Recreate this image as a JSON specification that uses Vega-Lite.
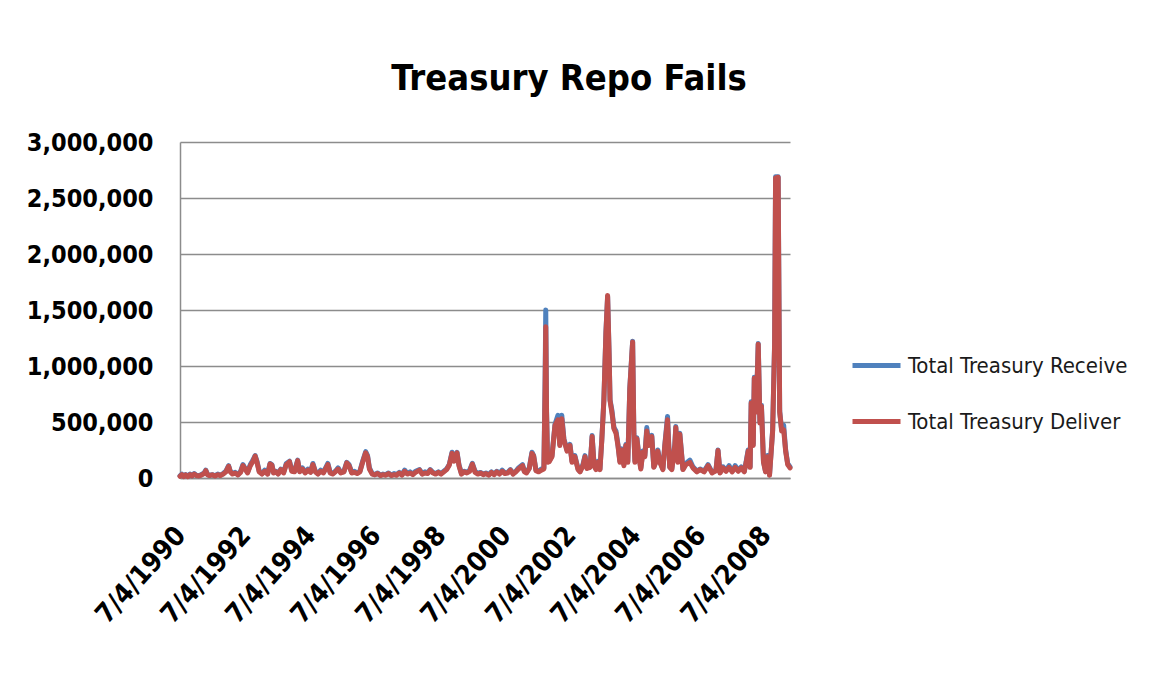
{
  "$schema": "https://vega.github.io/schema/vega-lite/v6.json",
  "width": 610,
  "height": 336,
  "autosize": {"type": "none"},
  "padding": {"left": 180, "top": 142, "right": 361, "bottom": 203},
  "background": "white",
  "title": {
    "text": "Treasury Repo Fails",
    "font": "DejaVu Sans Condensed, DejaVu Sans",
    "fontSize": 36,
    "fontWeight": "bold",
    "color": "#000000",
    "anchor": "middle",
    "dx": 84,
    "baseline": "alphabetic",
    "offset": 4
  },
  "data": {
    "values": [
      {"d": "1990-07-04", "Receive": 20000, "Deliver": 15000},
      {"d": "1990-07-25", "Receive": 35000, "Deliver": 30000},
      {"d": "1990-08-15", "Receive": 15000, "Deliver": 12000},
      {"d": "1990-09-05", "Receive": 30000, "Deliver": 28000},
      {"d": "1990-10-01", "Receive": 15000, "Deliver": 12000},
      {"d": "1990-10-25", "Receive": 35000, "Deliver": 30000},
      {"d": "1990-11-15", "Receive": 20000, "Deliver": 18000},
      {"d": "1990-12-10", "Receive": 40000, "Deliver": 35000},
      {"d": "1991-01-02", "Receive": 25000, "Deliver": 22000},
      {"d": "1991-02-01", "Receive": 20000, "Deliver": 18000},
      {"d": "1991-03-01", "Receive": 30000, "Deliver": 26000},
      {"d": "1991-04-01", "Receive": 45000, "Deliver": 40000},
      {"d": "1991-04-20", "Receive": 70000, "Deliver": 65000},
      {"d": "1991-05-10", "Receive": 30000, "Deliver": 28000},
      {"d": "1991-06-01", "Receive": 25000, "Deliver": 22000},
      {"d": "1991-07-01", "Receive": 30000, "Deliver": 28000},
      {"d": "1991-08-01", "Receive": 20000, "Deliver": 18000},
      {"d": "1991-09-01", "Receive": 35000, "Deliver": 30000},
      {"d": "1991-10-01", "Receive": 25000, "Deliver": 22000},
      {"d": "1991-11-01", "Receive": 40000, "Deliver": 35000},
      {"d": "1991-12-01", "Receive": 60000, "Deliver": 55000},
      {"d": "1992-01-01", "Receive": 110000, "Deliver": 105000},
      {"d": "1992-01-20", "Receive": 60000, "Deliver": 55000},
      {"d": "1992-02-15", "Receive": 40000, "Deliver": 35000},
      {"d": "1992-03-15", "Receive": 50000, "Deliver": 45000},
      {"d": "1992-04-15", "Receive": 30000, "Deliver": 28000},
      {"d": "1992-05-15", "Receive": 60000, "Deliver": 50000},
      {"d": "1992-06-10", "Receive": 120000, "Deliver": 110000},
      {"d": "1992-07-01", "Receive": 90000, "Deliver": 85000},
      {"d": "1992-08-01", "Receive": 50000, "Deliver": 45000},
      {"d": "1992-09-01", "Receive": 120000, "Deliver": 110000},
      {"d": "1992-10-01", "Receive": 160000, "Deliver": 150000},
      {"d": "1992-10-25", "Receive": 200000, "Deliver": 195000},
      {"d": "1992-11-15", "Receive": 150000, "Deliver": 140000},
      {"d": "1992-12-10", "Receive": 60000, "Deliver": 55000},
      {"d": "1993-01-10", "Receive": 40000, "Deliver": 35000},
      {"d": "1993-02-10", "Receive": 70000, "Deliver": 60000},
      {"d": "1993-03-15", "Receive": 40000, "Deliver": 35000},
      {"d": "1993-04-10", "Receive": 130000, "Deliver": 125000},
      {"d": "1993-05-01", "Receive": 120000, "Deliver": 115000},
      {"d": "1993-05-20", "Receive": 50000, "Deliver": 45000},
      {"d": "1993-06-15", "Receive": 60000, "Deliver": 55000},
      {"d": "1993-07-10", "Receive": 40000, "Deliver": 35000},
      {"d": "1993-08-10", "Receive": 80000, "Deliver": 75000},
      {"d": "1993-09-10", "Receive": 50000, "Deliver": 45000},
      {"d": "1993-10-10", "Receive": 130000, "Deliver": 120000},
      {"d": "1993-11-15", "Receive": 150000, "Deliver": 145000},
      {"d": "1993-12-10", "Receive": 70000, "Deliver": 60000},
      {"d": "1994-01-10", "Receive": 60000, "Deliver": 55000},
      {"d": "1994-02-15", "Receive": 160000, "Deliver": 155000},
      {"d": "1994-03-10", "Receive": 60000, "Deliver": 55000},
      {"d": "1994-04-10", "Receive": 90000, "Deliver": 80000},
      {"d": "1994-05-10", "Receive": 50000, "Deliver": 45000},
      {"d": "1994-06-10", "Receive": 80000, "Deliver": 70000},
      {"d": "1994-07-10", "Receive": 55000, "Deliver": 50000},
      {"d": "1994-08-05", "Receive": 130000, "Deliver": 120000},
      {"d": "1994-09-01", "Receive": 60000, "Deliver": 55000},
      {"d": "1994-10-01", "Receive": 40000, "Deliver": 35000},
      {"d": "1994-11-01", "Receive": 70000, "Deliver": 60000},
      {"d": "1994-12-01", "Receive": 50000, "Deliver": 45000},
      {"d": "1995-01-20", "Receive": 130000, "Deliver": 120000},
      {"d": "1995-02-15", "Receive": 50000, "Deliver": 45000},
      {"d": "1995-03-15", "Receive": 40000, "Deliver": 35000},
      {"d": "1995-04-15", "Receive": 60000, "Deliver": 55000},
      {"d": "1995-05-15", "Receive": 90000, "Deliver": 80000},
      {"d": "1995-06-15", "Receive": 50000, "Deliver": 45000},
      {"d": "1995-07-20", "Receive": 60000, "Deliver": 55000},
      {"d": "1995-08-20", "Receive": 140000, "Deliver": 135000},
      {"d": "1995-09-15", "Receive": 120000, "Deliver": 110000},
      {"d": "1995-10-15", "Receive": 50000, "Deliver": 45000},
      {"d": "1995-11-15", "Receive": 60000, "Deliver": 50000},
      {"d": "1995-12-15", "Receive": 45000, "Deliver": 40000},
      {"d": "1996-01-15", "Receive": 60000, "Deliver": 55000},
      {"d": "1996-02-15", "Receive": 150000, "Deliver": 140000},
      {"d": "1996-03-20", "Receive": 235000, "Deliver": 225000},
      {"d": "1996-04-10", "Receive": 200000, "Deliver": 190000},
      {"d": "1996-05-01", "Receive": 90000, "Deliver": 80000},
      {"d": "1996-06-01", "Receive": 40000, "Deliver": 35000},
      {"d": "1996-07-01", "Receive": 30000, "Deliver": 28000},
      {"d": "1996-08-01", "Receive": 45000, "Deliver": 40000},
      {"d": "1996-09-01", "Receive": 25000, "Deliver": 22000},
      {"d": "1996-10-01", "Receive": 35000, "Deliver": 30000},
      {"d": "1996-11-01", "Receive": 30000, "Deliver": 25000},
      {"d": "1996-12-01", "Receive": 45000, "Deliver": 40000},
      {"d": "1997-01-01", "Receive": 25000, "Deliver": 22000},
      {"d": "1997-02-01", "Receive": 40000, "Deliver": 30000},
      {"d": "1997-03-01", "Receive": 30000, "Deliver": 25000},
      {"d": "1997-04-01", "Receive": 50000, "Deliver": 45000},
      {"d": "1997-05-01", "Receive": 30000, "Deliver": 25000},
      {"d": "1997-06-01", "Receive": 70000, "Deliver": 60000},
      {"d": "1997-07-01", "Receive": 40000, "Deliver": 35000},
      {"d": "1997-08-01", "Receive": 55000, "Deliver": 45000},
      {"d": "1997-09-01", "Receive": 35000, "Deliver": 30000},
      {"d": "1997-10-01", "Receive": 60000, "Deliver": 50000},
      {"d": "1997-11-15", "Receive": 75000, "Deliver": 70000},
      {"d": "1997-12-15", "Receive": 40000, "Deliver": 35000},
      {"d": "1998-01-15", "Receive": 55000, "Deliver": 45000},
      {"d": "1998-02-15", "Receive": 45000, "Deliver": 40000},
      {"d": "1998-03-15", "Receive": 75000, "Deliver": 70000},
      {"d": "1998-04-15", "Receive": 50000, "Deliver": 45000},
      {"d": "1998-05-15", "Receive": 40000, "Deliver": 35000},
      {"d": "1998-06-15", "Receive": 55000, "Deliver": 50000},
      {"d": "1998-07-15", "Receive": 40000, "Deliver": 35000},
      {"d": "1998-08-15", "Receive": 60000, "Deliver": 55000},
      {"d": "1998-09-15", "Receive": 80000, "Deliver": 75000},
      {"d": "1998-10-15", "Receive": 120000, "Deliver": 115000},
      {"d": "1998-11-15", "Receive": 230000, "Deliver": 220000},
      {"d": "1998-12-10", "Receive": 160000, "Deliver": 150000},
      {"d": "1999-01-10", "Receive": 230000, "Deliver": 225000},
      {"d": "1999-02-01", "Receive": 120000, "Deliver": 110000},
      {"d": "1999-03-01", "Receive": 40000, "Deliver": 35000},
      {"d": "1999-04-01", "Receive": 60000, "Deliver": 55000},
      {"d": "1999-05-01", "Receive": 50000, "Deliver": 45000},
      {"d": "1999-06-01", "Receive": 70000, "Deliver": 60000},
      {"d": "1999-07-01", "Receive": 130000, "Deliver": 125000},
      {"d": "1999-08-01", "Receive": 60000, "Deliver": 50000},
      {"d": "1999-09-01", "Receive": 40000, "Deliver": 35000},
      {"d": "1999-10-01", "Receive": 50000, "Deliver": 45000},
      {"d": "1999-11-01", "Receive": 35000, "Deliver": 30000},
      {"d": "1999-12-01", "Receive": 45000, "Deliver": 40000},
      {"d": "2000-01-01", "Receive": 30000, "Deliver": 25000},
      {"d": "2000-02-01", "Receive": 55000, "Deliver": 50000},
      {"d": "2000-03-01", "Receive": 35000, "Deliver": 30000},
      {"d": "2000-04-01", "Receive": 60000, "Deliver": 55000},
      {"d": "2000-05-01", "Receive": 40000, "Deliver": 35000},
      {"d": "2000-06-01", "Receive": 70000, "Deliver": 60000},
      {"d": "2000-07-01", "Receive": 45000, "Deliver": 40000},
      {"d": "2000-08-01", "Receive": 50000, "Deliver": 45000},
      {"d": "2000-09-01", "Receive": 75000, "Deliver": 70000},
      {"d": "2000-10-01", "Receive": 40000, "Deliver": 35000},
      {"d": "2000-11-01", "Receive": 60000, "Deliver": 55000},
      {"d": "2000-12-01", "Receive": 90000, "Deliver": 80000},
      {"d": "2001-01-15", "Receive": 120000, "Deliver": 110000},
      {"d": "2001-02-05", "Receive": 60000, "Deliver": 55000},
      {"d": "2001-03-01", "Receive": 50000, "Deliver": 45000},
      {"d": "2001-04-01", "Receive": 90000, "Deliver": 85000},
      {"d": "2001-05-01", "Receive": 230000, "Deliver": 220000},
      {"d": "2001-05-20", "Receive": 200000, "Deliver": 195000},
      {"d": "2001-06-15", "Receive": 70000, "Deliver": 65000},
      {"d": "2001-07-15", "Receive": 60000, "Deliver": 55000},
      {"d": "2001-08-15", "Receive": 80000, "Deliver": 70000},
      {"d": "2001-09-12", "Receive": 90000, "Deliver": 80000},
      {"d": "2001-09-26", "Receive": 900000, "Deliver": 800000},
      {"d": "2001-10-03", "Receive": 1500000, "Deliver": 1350000},
      {"d": "2001-10-12", "Receive": 600000, "Deliver": 580000},
      {"d": "2001-10-24", "Receive": 150000, "Deliver": 140000},
      {"d": "2001-11-10", "Receive": 150000, "Deliver": 145000},
      {"d": "2001-12-12", "Receive": 200000, "Deliver": 190000},
      {"d": "2002-01-15", "Receive": 480000, "Deliver": 470000},
      {"d": "2002-02-17", "Receive": 560000, "Deliver": 520000},
      {"d": "2002-03-10", "Receive": 300000, "Deliver": 290000},
      {"d": "2002-04-01", "Receive": 560000, "Deliver": 530000},
      {"d": "2002-04-25", "Receive": 350000, "Deliver": 340000},
      {"d": "2002-05-30", "Receive": 250000, "Deliver": 240000},
      {"d": "2002-07-02", "Receive": 300000, "Deliver": 290000},
      {"d": "2002-07-25", "Receive": 150000, "Deliver": 140000},
      {"d": "2002-08-26", "Receive": 200000, "Deliver": 190000},
      {"d": "2002-10-01", "Receive": 80000, "Deliver": 75000},
      {"d": "2002-10-23", "Receive": 60000, "Deliver": 55000},
      {"d": "2002-11-25", "Receive": 120000, "Deliver": 110000},
      {"d": "2002-12-18", "Receive": 200000, "Deliver": 190000},
      {"d": "2003-01-09", "Receive": 90000, "Deliver": 85000},
      {"d": "2003-02-13", "Receive": 100000, "Deliver": 95000},
      {"d": "2003-03-08", "Receive": 380000, "Deliver": 370000},
      {"d": "2003-03-30", "Receive": 120000, "Deliver": 110000},
      {"d": "2003-04-21", "Receive": 80000, "Deliver": 75000},
      {"d": "2003-05-13", "Receive": 150000, "Deliver": 140000},
      {"d": "2003-06-04", "Receive": 80000, "Deliver": 75000},
      {"d": "2003-06-25", "Receive": 350000, "Deliver": 340000},
      {"d": "2003-07-18", "Receive": 700000, "Deliver": 690000},
      {"d": "2003-08-10", "Receive": 1300000, "Deliver": 1290000},
      {"d": "2003-08-29", "Receive": 1620000, "Deliver": 1630000},
      {"d": "2003-09-15", "Receive": 1100000, "Deliver": 1090000},
      {"d": "2003-09-25", "Receive": 700000, "Deliver": 690000},
      {"d": "2003-10-17", "Receive": 600000, "Deliver": 580000},
      {"d": "2003-11-08", "Receive": 450000, "Deliver": 440000},
      {"d": "2003-12-01", "Receive": 420000, "Deliver": 400000},
      {"d": "2003-12-23", "Receive": 300000, "Deliver": 290000},
      {"d": "2004-01-14", "Receive": 150000, "Deliver": 140000},
      {"d": "2004-02-06", "Receive": 260000, "Deliver": 250000},
      {"d": "2004-02-28", "Receive": 120000, "Deliver": 110000},
      {"d": "2004-03-21", "Receive": 300000, "Deliver": 290000},
      {"d": "2004-04-12", "Receive": 150000, "Deliver": 140000},
      {"d": "2004-05-04", "Receive": 800000, "Deliver": 790000},
      {"d": "2004-06-05", "Receive": 1220000, "Deliver": 1215000},
      {"d": "2004-06-19", "Receive": 400000, "Deliver": 390000},
      {"d": "2004-07-01", "Receive": 150000, "Deliver": 140000},
      {"d": "2004-07-23", "Receive": 360000, "Deliver": 350000},
      {"d": "2004-08-14", "Receive": 200000, "Deliver": 190000},
      {"d": "2004-09-05", "Receive": 90000, "Deliver": 80000},
      {"d": "2004-09-28", "Receive": 240000, "Deliver": 230000},
      {"d": "2004-10-20", "Receive": 200000, "Deliver": 190000},
      {"d": "2004-11-11", "Receive": 450000, "Deliver": 420000},
      {"d": "2004-12-03", "Receive": 300000, "Deliver": 290000},
      {"d": "2005-01-06", "Receive": 380000, "Deliver": 370000},
      {"d": "2005-01-29", "Receive": 100000, "Deliver": 95000},
      {"d": "2005-02-21", "Receive": 150000, "Deliver": 140000},
      {"d": "2005-03-15", "Receive": 250000, "Deliver": 240000},
      {"d": "2005-04-07", "Receive": 150000, "Deliver": 140000},
      {"d": "2005-05-11", "Receive": 80000, "Deliver": 75000},
      {"d": "2005-06-02", "Receive": 300000, "Deliver": 290000},
      {"d": "2005-07-02", "Receive": 550000, "Deliver": 520000},
      {"d": "2005-07-27", "Receive": 100000, "Deliver": 95000},
      {"d": "2005-08-19", "Receive": 80000, "Deliver": 75000},
      {"d": "2005-09-22", "Receive": 300000, "Deliver": 290000},
      {"d": "2005-10-03", "Receive": 460000, "Deliver": 450000},
      {"d": "2005-10-26", "Receive": 150000, "Deliver": 140000},
      {"d": "2005-11-17", "Receive": 400000, "Deliver": 390000},
      {"d": "2005-12-22", "Receive": 80000, "Deliver": 75000},
      {"d": "2006-01-25", "Receive": 130000, "Deliver": 120000},
      {"d": "2006-03-10", "Receive": 160000, "Deliver": 140000},
      {"d": "2006-04-13", "Receive": 100000, "Deliver": 90000},
      {"d": "2006-05-29", "Receive": 60000, "Deliver": 55000},
      {"d": "2006-07-03", "Receive": 80000, "Deliver": 75000},
      {"d": "2006-08-17", "Receive": 60000, "Deliver": 55000},
      {"d": "2006-10-01", "Receive": 120000, "Deliver": 110000},
      {"d": "2006-11-15", "Receive": 50000, "Deliver": 45000},
      {"d": "2006-12-28", "Receive": 70000, "Deliver": 65000},
      {"d": "2007-01-20", "Receive": 250000, "Deliver": 245000},
      {"d": "2007-02-12", "Receive": 50000, "Deliver": 45000},
      {"d": "2007-03-18", "Receive": 100000, "Deliver": 90000},
      {"d": "2007-04-21", "Receive": 70000, "Deliver": 60000},
      {"d": "2007-05-25", "Receive": 110000, "Deliver": 95000},
      {"d": "2007-06-28", "Receive": 60000, "Deliver": 55000},
      {"d": "2007-08-01", "Receive": 110000, "Deliver": 95000},
      {"d": "2007-09-04", "Receive": 70000, "Deliver": 60000},
      {"d": "2007-10-08", "Receive": 100000, "Deliver": 90000},
      {"d": "2007-11-11", "Receive": 60000, "Deliver": 55000},
      {"d": "2007-12-03", "Receive": 150000, "Deliver": 140000},
      {"d": "2007-12-25", "Receive": 250000, "Deliver": 240000},
      {"d": "2008-01-16", "Receive": 100000, "Deliver": 95000},
      {"d": "2008-01-28", "Receive": 680000, "Deliver": 670000},
      {"d": "2008-02-20", "Receive": 300000, "Deliver": 290000},
      {"d": "2008-03-03", "Receive": 900000, "Deliver": 890000},
      {"d": "2008-03-25", "Receive": 600000, "Deliver": 590000},
      {"d": "2008-04-16", "Receive": 1200000, "Deliver": 1195000},
      {"d": "2008-05-05", "Receive": 500000, "Deliver": 490000},
      {"d": "2008-05-22", "Receive": 650000, "Deliver": 640000},
      {"d": "2008-06-14", "Receive": 150000, "Deliver": 140000},
      {"d": "2008-07-07", "Receive": 60000, "Deliver": 55000},
      {"d": "2008-07-30", "Receive": 200000, "Deliver": 190000},
      {"d": "2008-08-21", "Receive": 30000, "Deliver": 25000},
      {"d": "2008-09-25", "Receive": 430000, "Deliver": 420000},
      {"d": "2008-10-17", "Receive": 1200000, "Deliver": 1190000},
      {"d": "2008-10-28", "Receive": 2690000, "Deliver": 2680000},
      {"d": "2008-11-26", "Receive": 2690000, "Deliver": 2685000},
      {"d": "2008-12-13", "Receive": 600000, "Deliver": 590000},
      {"d": "2009-01-04", "Receive": 430000, "Deliver": 420000},
      {"d": "2009-01-27", "Receive": 470000, "Deliver": 430000},
      {"d": "2009-02-18", "Receive": 250000, "Deliver": 240000},
      {"d": "2009-03-13", "Receive": 130000, "Deliver": 120000},
      {"d": "2009-04-08", "Receive": 100000, "Deliver": 90000}
    ]
  },
  "transform": [
    {"fold": ["Receive", "Deliver"], "as": ["series", "value"]}
  ],
  "mark": {"type": "line", "strokeWidth": 5, "strokeJoin": "round", "strokeCap": "round"},
  "encoding": {
    "x": {
      "field": "d",
      "type": "temporal",
      "scale": {"domain": [{"year": 1990, "month": 7, "date": 4}, {"year": 2009, "month": 4, "date": 8}]},
      "axis": {
        "title": null,
        "grid": false,
        "ticks": false,
        "domainColor": "#8c8c8c",
        "domainWidth": 1.5,
        "values": [
          {"year": 1990, "month": 7, "date": 4},
          {"year": 1992, "month": 7, "date": 4},
          {"year": 1994, "month": 7, "date": 4},
          {"year": 1996, "month": 7, "date": 4},
          {"year": 1998, "month": 7, "date": 4},
          {"year": 2000, "month": 7, "date": 4},
          {"year": 2002, "month": 7, "date": 4},
          {"year": 2004, "month": 7, "date": 4},
          {"year": 2006, "month": 7, "date": 4},
          {"year": 2008, "month": 7, "date": 4}
        ],
        "format": "%-m/%-d/%Y",
        "labelAngle": -48,
        "labelAlign": "right",
        "labelBaseline": "top",
        "labelPadding": 44,
        "labelOffset": -9,
        "labelFont": "DejaVu Sans Condensed, DejaVu Sans",
        "labelFontSize": 27,
        "labelFontWeight": "bold",
        "labelColor": "#000000",
        "labelOverlap": false,
        "labelBound": false,
        "labelFlush": false
      }
    },
    "y": {
      "field": "value",
      "type": "quantitative",
      "scale": {"domain": [0, 3000000]},
      "axis": {
        "title": null,
        "values": [0, 500000, 1000000, 1500000, 2000000, 2500000, 3000000],
        "format": ",d",
        "ticks": false,
        "grid": true,
        "gridColor": "#8c8c8c",
        "gridWidth": 1.5,
        "domainColor": "#8c8c8c",
        "domainWidth": 1.5,
        "labelPadding": 27,
        "labelFont": "DejaVu Sans Condensed, DejaVu Sans",
        "labelFontSize": 25,
        "labelFontWeight": "bold",
        "labelColor": "#000000",
        "labelOverlap": false
      }
    },
    "color": {
      "field": "series",
      "type": "nominal",
      "sort": ["Receive", "Deliver"],
      "scale": {"domain": ["Receive", "Deliver"], "range": ["#4F81BD", "#C0504D"]},
      "legend": {
        "title": null,
        "orient": "none",
        "legendX": 670,
        "legendY": 197,
        "symbolType": "stroke",
        "symbolSize": 2304,
        "symbolStrokeWidth": 5,
        "labelExpr": "'Total Treasury ' + datum.label",
        "labelFont": "DejaVu Sans Condensed, DejaVu Sans",
        "labelFontSize": 22,
        "labelColor": "#1a1a1a",
        "labelOffset": 5,
        "rowPadding": 18,
        "labelLimit": 400
      }
    }
  },
  "config": {
    "view": {"stroke": null}
  }
}
